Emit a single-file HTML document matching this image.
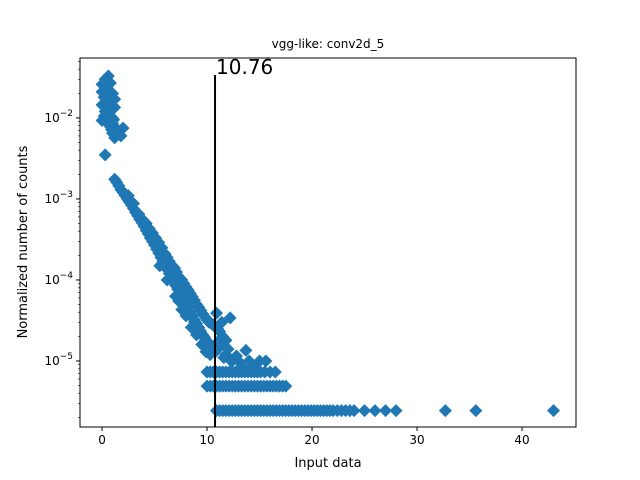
<!DOCTYPE html>
<html><head><meta charset="utf-8"><style>
body{margin:0;background:#fff}
svg{display:block;font-family:"DejaVu Sans","Liberation Sans",sans-serif}
</style></head><body>
<svg id="chart" width="640" height="480" xmlns="http://www.w3.org/2000/svg">
<rect width="640" height="480" fill="#fff"/>
<text x="328" y="48" font-size="12" text-anchor="middle">vgg-like: conv2d_5</text>
<text x="328" y="467" font-size="13" text-anchor="middle">Input data</text>
<text transform="translate(27,242) rotate(-90)" font-size="13" text-anchor="middle">Normalized number of counts</text>
<g id="marks"></g>
<g id="axes"></g>
</svg>
<script>
const clusterX=[0.0,0.3,0.6,0.0,0.4,0.8,0.2,0.6,1.0,1.2,0.0,0.4,0.8,1.2,0.2,0.6,1.0,0.0,0.5,1.0,1.3,1.0,1.6,2.0,1.2,1.8,0.3,0.9,1.5,0.5,0.7,0.3,1.1,1.4,0.8];
const clusterY=[0.026,0.03,0.033,0.021,0.024,0.027,0.018,0.016,0.02,0.017,0.0145,0.013,0.012,0.0135,0.0105,0.011,0.01,0.0093,0.0088,0.0085,0.0075,0.0065,0.0068,0.0075,0.0057,0.006,0.0035,0.0072,0.0062,0.019,0.014,0.012,0.0095,0.0064,0.0078];
const bandX=[1.2,1.4,1.6,1.8,2.0,2.2,2.4,2.6,2.8,3.0,3.2,3.4,3.6,3.8,4.0,4.2,4.4,4.6,4.8,5.0,5.2,5.4,5.6,5.8,6.0,6.2,6.4,6.6,6.8,7.0,7.2,7.4,7.6,7.8,8.0,8.2,8.4,8.6,8.8,9.0,9.2,9.4,9.6,9.8,10.0];
const bandY=[1.75e-3,1.6e-3,1.45e-3,1.3e-3,1.2e-3,1.1e-3,1.0e-3,9.2e-4,8.4e-4,7.6e-4,6.8e-4,6.2e-4,5.6e-4,5.1e-4,4.6e-4,4.1e-4,3.7e-4,3.3e-4,3.0e-4,2.7e-4,2.4e-4,2.15e-4,1.9e-4,1.7e-4,1.5e-4,1.35e-4,1.2e-4,1.08e-4,9.6e-5,8.6e-5,7.7e-5,6.9e-5,6.2e-5,5.5e-5,5.0e-5,4.5e-5,4.0e-5,3.6e-5,3.2e-5,2.9e-5,2.6e-5,2.3e-5,2.1e-5,1.9e-5,1.7e-5];
const upperX=[2.5,3.0,3.5,3.9,4.2,4.5,4.8,5.1,5.4,5.7,6.0,6.2,6.4,6.7,6.9,7.1,7.3,7.6,7.8,8.0,8.2,8.4,8.6,8.8,9.0,9.2,9.4,9.6,9.8,10.0,10.2,10.4,10.6,10.8,11.0,11.2,11.5,11.8,12.2,10.9,11.4];
const upperY=[1.1e-3,8.8e-4,6.5e-4,5.5e-4,5e-4,4.3e-4,3.8e-4,3.3e-4,2.9e-4,2.5e-4,2.1e-4,1.9e-4,1.7e-4,1.5e-4,1.4e-4,1.25e-4,1.1e-4,1.0e-4,9e-5,8.2e-5,7.5e-5,6.8e-5,6.2e-5,5.6e-5,5e-5,4.6e-5,4.2e-5,3.8e-5,3.5e-5,3.2e-5,3e-5,2.9e-5,2.8e-5,2.6e-5,2.5e-5,2.3e-5,2e-5,1.8e-5,3.4e-5,3.9e-5,3.0e-5];
const lowerX=[5.5,6.2,7.0,7.6,8.0,8.5,9.0,9.5,9.9,10.3,10.8,11.2,11.8,12.3,7.3,8.3,8.8,9.3,9.7,10.1,10.5,11.0,11.5,12.0];
const lowerY=[1.5e-4,1e-4,6.3e-5,4.3e-5,3.6e-5,2.6e-5,2.1e-5,1.6e-5,1.3e-5,1.2e-5,1.3e-5,1.5e-5,1.2e-5,1.0e-5,5.5e-5,3.8e-5,3.0e-5,2.4e-5,2.0e-5,1.7e-5,1.5e-5,1.7e-5,1.6e-5,1.4e-5];
const scatterX=[13.0,14.0,15.0,15.6,13.7,12.8,11.6,12.4,13.3,14.4];
const scatterY=[1e-5,1e-5,1e-5,1e-5,1.35e-5,1.15e-5,1.1e-5,1.0e-5,8.5e-6,8.5e-6];
const row7X=[10.0,10.3,10.6,10.9,11.2,11.5,11.8,12.1,12.4,12.7,13.0,13.3,13.6,13.9,14.2,14.5,14.8,15.1,15.5,16.0,16.5];
const row5X=[10.0,10.3,10.6,10.9,11.2,11.5,11.8,12.1,12.4,12.7,13.0,13.3,13.6,13.9,14.2,14.5,14.8,15.1,15.4,15.7,16.0,16.3,16.6,16.9,17.2,17.5];
const row2X=[10.9,11.2,11.5,11.8,12.1,12.4,12.7,13.0,13.3,13.6,13.9,14.2,14.5,14.8,15.1,15.4,15.7,16.0,16.3,16.6,16.9,17.2,17.5,17.8,18.1,18.4,18.7,19.0,19.3,19.6,19.9,20.2,20.5,20.8,21.1,21.4,21.7,22.0,22.4,22.8,23.2,23.6,24.0,25.0,26.0,27.0,28.0,32.7,35.6,43.0];
const rowY=[7.3e-6,4.9e-6,2.44e-6];
const thresh=10.76;
const xTicks=[0,10,20,30,40];
const yTicks=[-2,-3,-4,-5];

const L=80,R=576,T=58,B=427;
const xMin=-2.1,xMax=45.14,lMin=-5.815,lMax=-1.26;
const sx=v=>L+(v-xMin)/(xMax-xMin)*(R-L);
const sy=v=>B-(Math.log10(v)-lMin)/(lMax-lMin)*(B-T);
const NS='http://www.w3.org/2000/svg';
const marks=document.getElementById('marks'),axes=document.getElementById('axes');
function mk(tag,attrs,parent){const e=document.createElementNS(NS,tag);for(const k in attrs)e.setAttribute(k,attrs[k]);parent.appendChild(e);return e;}
function pt(x,y){const cx=sx(x),cy=sy(y),h=6.5;
 const p=mk('path',{d:`M${cx} ${cy-h}L${cx+h} ${cy}L${cx} ${cy+h}L${cx-h} ${cy}Z`,fill:'#1f77b4'},marks);
 
 }
clusterX.forEach((x,i)=>pt(x,clusterY[i]));
bandX.forEach((x,i)=>pt(x,bandY[i]));
upperX.forEach((x,i)=>pt(x,upperY[i]));
lowerX.forEach((x,i)=>pt(x,lowerY[i]));
scatterX.forEach((x,i)=>pt(x,scatterY[i]));
row7X.forEach(x=>pt(x,rowY[0]));
row5X.forEach(x=>pt(x,rowY[1]));
row2X.forEach(x=>pt(x,rowY[2]));
const tl=mk('line',{x1:sx(thresh),x2:sx(thresh),y1:75,y2:B,stroke:'#000','stroke-width':2},axes);


const tt=mk('text',{x:sx(thresh)+1,y:74,'font-size':20},axes);tt.textContent=thresh.toFixed(2);


const fr=mk('rect',{x:L,y:T,width:R-L,height:B-T,fill:'none',stroke:'#000','stroke-width':1},axes);


xTicks.forEach(t=>{const x=sx(t);mk('line',{x1:x,x2:x,y1:B,y2:B+4,stroke:'#000'},axes);
 const lb=mk('text',{x:x,y:B+17,'font-size':12,'text-anchor':'middle'},axes);lb.textContent=t;
 
 });
for(let d=-6;d<=-1;d++){for(let m=2;m<=9;m++){const v=m*Math.pow(10,d);const y=sy(v);if(y>T&&y<B)mk('line',{x1:L-2,x2:L,y1:y,y2:y,stroke:'#000','stroke-width':0.6},axes);}}
yTicks.forEach(t=>{const y=sy(Math.pow(10,t));mk('line',{x1:L-4,x2:L,y1:y,y2:y,stroke:'#000'},axes);
 const lb=mk('text',{x:L-7,y:y+4,'font-size':12,'text-anchor':'end'},axes);
 
 
 const a=mk('tspan',{},lb);a.textContent='10';const b=mk('tspan',{dy:-6,'font-size':9},lb);b.textContent='\u2212'+(-t);});
</script>
</body></html>
